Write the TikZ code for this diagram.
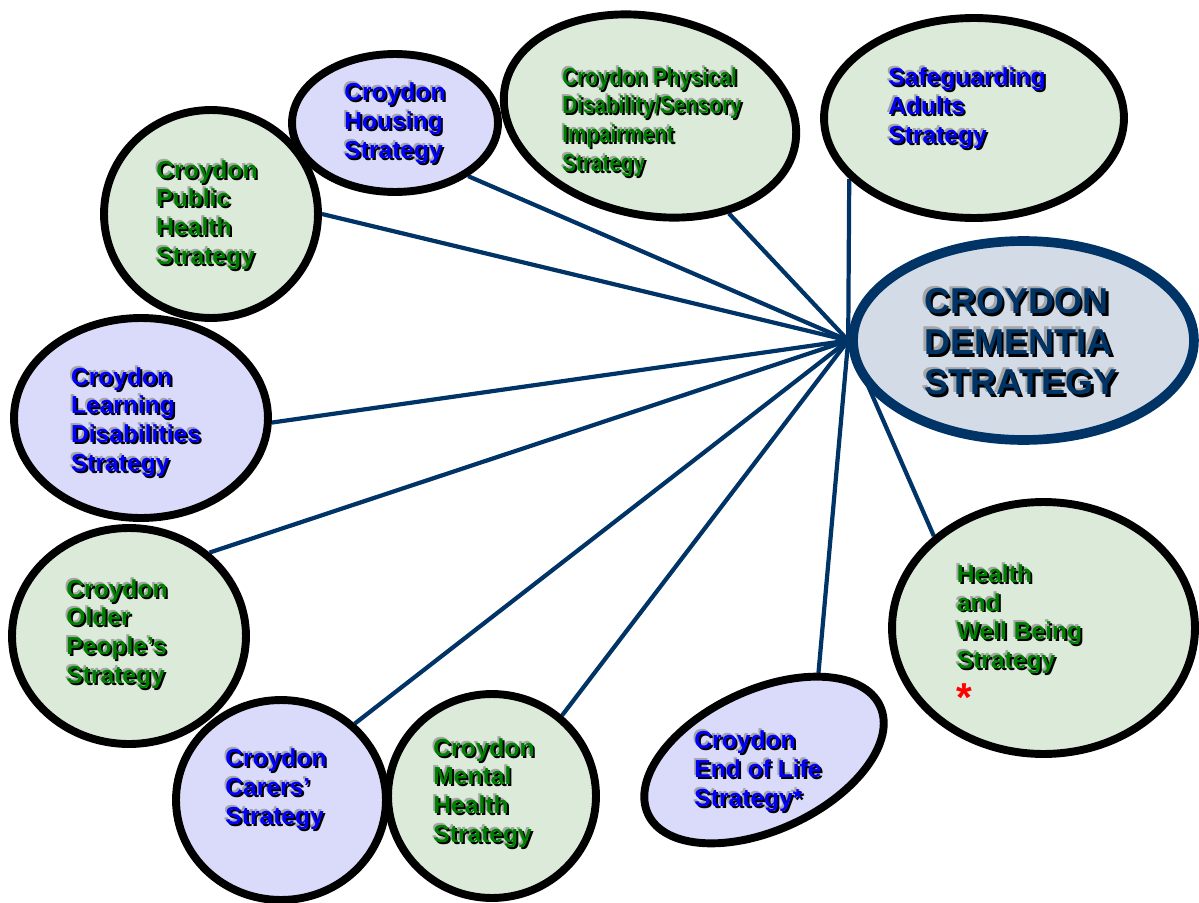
\documentclass[tikz,border=0pt]{standalone}
\usepackage{fontspec}
\setmainfont{Liberation Sans}
\newfontfamily\narrowfont{Liberation Sans}[FakeStretch=0.84]
\usepackage{tikz}
\usetikzlibrary{positioning,shapes.geometric}

\definecolor{greenfill}{RGB}{220,235,217}
\definecolor{lilacfill}{RGB}{218,218,250}
\definecolor{hubfill}{RGB}{211,220,230}
\definecolor{navy}{RGB}{0,51,102}
\definecolor{txtgreen}{RGB}{0,128,0}
\definecolor{txtblue}{RGB}{0,0,255}
\definecolor{shgray}{RGB}{165,165,165}

% text with a grey and a black shadow
\newcommand{\shadowed}[3][1.1pt]{%
  \makebox[0pt][l]{\hspace*{-#1}\raisebox{#1}{\color{shgray}#3}}%
  \makebox[0pt][l]{\hspace*{#1}\raisebox{-#1}{\color{black}#3}}%
  {\color{#2}#3}}
\newcommand{\gtxt}[1]{\shadowed{txtgreen}{#1}}
\newcommand{\btxt}[1]{\shadowed{txtblue}{#1}}
\newcommand{\ntxt}[1]{\shadowed[1.5pt]{navy}{#1}}

\pgfdeclarelayer{background}
\pgfsetlayers{background,main}

\tikzset{
  bubble/.style={ellipse, draw=black, line width=4.5pt, inner sep=0pt},
  gbubble/.style={bubble, fill=greenfill},
  lbubble/.style={bubble, fill=lilacfill},
  label txt/.style={align=left, font=\bfseries\fontsize{14}{16.4}\selectfont},
  link/.style={draw=navy, line width=2.4pt}
}

\begin{document}
\begin{tikzpicture}[x=0.02cm, y=-0.02cm]

  \useasboundingbox (0,0) rectangle (1199,902);

  % the centre
  \node[ellipse, draw=navy, line width=5.5pt, fill=hubfill, inner sep=0pt,
        minimum width=6.82cm, minimum height=3.98cm] (dem) at (1023.5,340.5) {};
  \node[align=left, font=\bfseries\fontsize{20.5}{23}\selectfont] (demt) at (1021,342)
        {\ntxt{CROYDON}\\ \ntxt{DEMENTIA}\\ \ntxt{STRATEGY}};

  % the bubbles round it
  \node[lbubble, minimum width=4.12cm, minimum height=2.76cm] (housing) at (395,123) {};
  \node[label txt] (housingt) at (395,123)
        {\btxt{Croydon}\\ \btxt{Housing}\\ \btxt{Strategy}};

  \node[gbubble, minimum width=5.92cm, minimum height=3.96cm, rotate=-12] (phys) at (650,116) {};
  \node[align=left, font=\narrowfont\bfseries\fontsize{14}{16.4}\selectfont] (physt) at (652,122)
        {\gtxt{Croydon Physical}\\ \gtxt{Disability/Sensory}\\ \gtxt{Impairment}\\ \gtxt{Strategy}};

  \node[gbubble, minimum width=6cm, minimum height=4cm] (safe) at (974,118) {};
  \node[label txt] (safet) at (967,108)
        {\btxt{Safeguarding}\\ \btxt{Adults}\\ \btxt{Strategy}};

  \node[gbubble, minimum width=4.28cm, minimum height=4.16cm] (pubh) at (211,214) {};
  \node[label txt] (pubht) at (207,215)
        {\gtxt{Croydon}\\ \gtxt{Public}\\ \gtxt{Health}\\ \gtxt{Strategy}};

  \node[lbubble, minimum width=5.08cm, minimum height=4cm] (learn) at (141,418) {};
  \node[label txt] (learnt) at (136,422)
        {\btxt{Croydon}\\ \btxt{Learning}\\ \btxt{Disabilities}\\ \btxt{Strategy}};

  \node[gbubble, minimum width=4.68cm, minimum height=4.32cm] (older) at (129,636) {};
  \node[label txt] (oldert) at (117,634)
        {\gtxt{Croydon}\\ \gtxt{Older}\\ \gtxt{People’s}\\ \gtxt{Strategy}};

  \node[lbubble, minimum width=4.2cm, minimum height=4cm] (carers) at (281,800) {};
  \node[label txt] (carerst) at (276,789)
        {\btxt{Croydon}\\ \btxt{Carers’}\\ \btxt{Strategy}};

  \node[gbubble, minimum width=4.16cm, minimum height=4.08cm] (mental) at (492,796) {};
  \node[label txt] (mentalt) at (484,793)
        {\gtxt{Croydon}\\ \gtxt{Mental}\\ \gtxt{Health}\\ \gtxt{Strategy}};

  \node[lbubble, minimum width=5.12cm, minimum height=2.8cm, rotate=25] (eol) at (764,760) {};
  \node[label txt] (eolt) at (758,771)
        {\btxt{Croydon}\\ \btxt{End of Life}\\ \btxt{Strategy*}};

  \node[gbubble, minimum width=6.06cm, minimum height=5.04cm] (wellb) at (1043.5,628) {};
  \node[label txt] (wellbt) at (1019.5,637)
        {\gtxt{Health}\\ \gtxt{and}\\ \gtxt{Well Being}\\ \gtxt{Strategy}\\
         \raisebox{-8pt}{\textcolor{red}{\fontsize{23}{23}\selectfont *}}};

  \begin{pgfonlayer}{background}
    \path[link] (dem.west) edge (housing.324);
    \path[link] (dem.west) edge (phys.321);
    \path[link] (dem.west) edge (safe.206);
    \path[link] (dem.west) edge (pubh.0);
    \path[link] (dem.west) edge (learn.358);
    \path[link] (dem.west) edge (older.46);
    \path[link] (dem.west) edge (carers.46);
    \path[link] (dem.west) edge (mental.49);
    \path[link] (dem.west) edge (eol.33);
    \path[link] (dem.west) edge (wellb.140);
  \end{pgfonlayer}

\end{tikzpicture}
\end{document}
